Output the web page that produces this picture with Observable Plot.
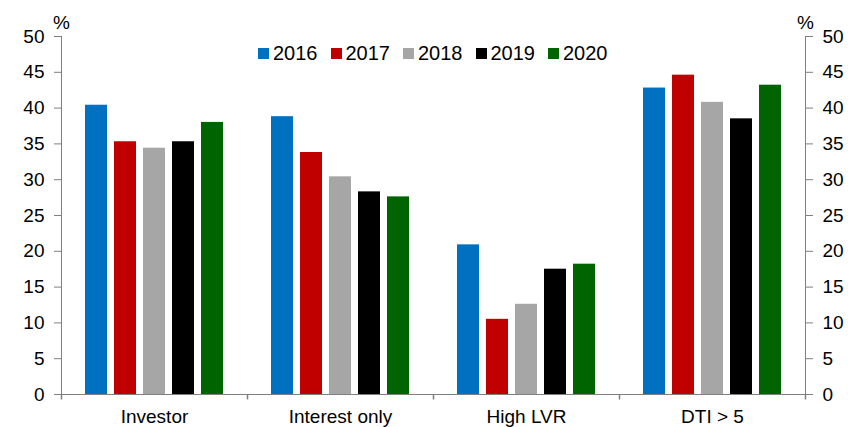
<!DOCTYPE html>
<html><head><meta charset="utf-8">
<script src="https://cdn.jsdelivr.net/npm/d3@7"></script>
<script src="https://cdn.jsdelivr.net/npm/@observablehq/plot@0.6"></script>
<style>
body{margin:0;background:#fff;}
#chart{position:relative;width:848px;height:427px;font-family:"Liberation Sans",Arial,sans-serif;}
#legend{position:absolute;top:43px;left:258px;display:flex;align-items:center;font-size:20px;line-height:20px;color:#000;white-space:nowrap;}
#legend .item{display:flex;align-items:center;margin-right:13px;}
#legend .item:last-child{margin-right:0;}
#legend .sw{width:11px;height:11px;margin-right:4px;}
</style></head><body><div id="chart"></div><script>
const categories = ["Investor", "Interest only", "High LVR", "DTI > 5"];
const years = ["2016", "2017", "2018", "2019", "2020"];
const v2016 = [40.4, 38.8, 20.9, 42.8];
const v2017 = [35.3, 33.8, 10.5, 44.6];
const v2018 = [34.4, 30.4, 12.6, 40.8];
const v2019 = [35.3, 28.3, 17.5, 38.5];
const v2020 = [38.0, 27.6, 18.2, 43.2];
const yTicks = [0, 5, 10, 15, 20, 25, 30, 35, 40, 45, 50];
const colors = ["#0070C0", "#C00000", "#A6A6A6", "#000000", "#006400"];

const series = [v2016, v2017, v2018, v2019, v2020];
const rows = [];
categories.forEach((c, i) => years.forEach((y, j) => rows.push({category: c, year: y, value: series[j][i]})));

const axisColor = "#7f7f7f";
const tickSym = {draw(ctx) { ctx.moveTo(0, 0); ctx.lineTo(0, 5); }};

const plot = Plot.plot({
  width: 848, height: 427,
  marginLeft: 60, marginRight: 42, marginTop: 36, marginBottom: 33,
  style: {fontFamily: "'Liberation Sans', Arial, sans-serif", fontSize: "19px", color: "#000", background: "#fff", overflow: "visible"},
  fx: {domain: categories, padding: 0, axis: null, label: null},
  x: {domain: years, paddingInner: 0.23, paddingOuter: 0.8, axis: null},
  y: {domain: [0, 50], axis: null},
  color: {domain: years, range: colors},
  marks: [
    Plot.barY(rows, {fx: "category", x: "year", y: "value", fill: "year"}),
    Plot.ruleY([0], {stroke: axisColor, strokeWidth: 1}),
    Plot.frame({anchor: "left", facetAnchor: "left", stroke: axisColor}),
    Plot.frame({anchor: "right", facetAnchor: "right", stroke: axisColor}),
    Plot.axisY({anchor: "left", ticks: yTicks, tickSize: 7, tickPadding: 10, stroke: axisColor, fill: "#000", fontSize: 19, label: null}),
    Plot.axisY({anchor: "right", ticks: yTicks, tickSize: 7, tickPadding: 10, stroke: axisColor, fill: "#000", fontSize: 19, label: null}),
    Plot.dot(categories, {fx: d => d, frameAnchor: "bottom-left", symbol: tickSym, stroke: axisColor, fill: "none", r: 3}),
    Plot.dot([categories[categories.length - 1]], {fx: d => d, frameAnchor: "bottom-right", symbol: tickSym, stroke: axisColor, fill: "none", r: 3}),
    Plot.axisFx({anchor: "bottom", tickSize: 0, tickPadding: 15, fontSize: 19, fill: "#000", label: null}),
    Plot.text([categories[0]], {fx: d => d, frameAnchor: "top-left", text: () => "%", textAnchor: "middle", lineAnchor: "middle", dy: -14, fontSize: 19, fill: "#000"}),
    Plot.text([categories[categories.length - 1]], {fx: d => d, frameAnchor: "top-right", text: () => "%", textAnchor: "middle", lineAnchor: "middle", dy: -14, fontSize: 19, fill: "#000"})
  ]
});
const chart = document.getElementById("chart");
chart.appendChild(plot);

const color = plot.scale("color");
const legend = document.createElement("div");
legend.id = "legend";
color.domain.forEach((y, i) => {
  const item = document.createElement("div");
  item.className = "item";
  const sw = document.createElement("span");
  sw.className = "sw";
  sw.style.background = color.range[i];
  item.appendChild(sw);
  item.appendChild(document.createTextNode(y));
  legend.appendChild(item);
});
chart.appendChild(legend);
</script></body></html>
